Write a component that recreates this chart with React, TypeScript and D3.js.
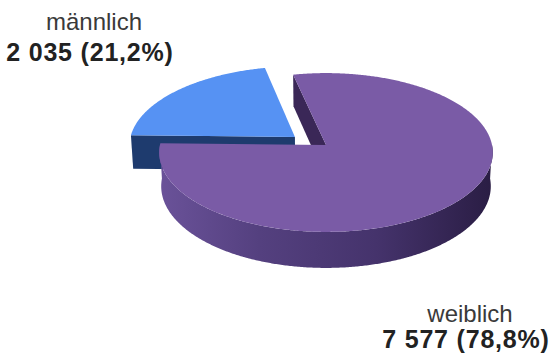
import React from 'react';
import * as d3 from 'd3';

// ---- data ----
const categories = ['männlich', 'weiblich'];
const values = [2035, 7577];
const valueLabels = ['2 035', '7 577'];
const percentLabels = ['21,2%', '78,8%'];

// ---- styles ----
const topColors = ['#5692f3', '#7a5ba6'];
const cutColors = ['#1e3b6e', '#3a2757'];
const explode = [0.215, 0];
const explodeTilt = -11 * (Math.PI / 180);

const W = 553;
const H = 356;
const deg = Math.PI / 180;

// perspective camera
const cx = 326;
const cy = 145;
const phi = 28.3 * deg;
const S = Math.sin(phi);
const C = Math.cos(phi);
const L = 9.33;
const F = 1549;
const T = 0.233; // thickness

function proj(u: number, v: number, y: number): [number, number] {
  const depth = L - y * S - v * C;
  return [cx + (F * u) / depth, cy - (F * (y * C - v * S)) / depth];
}

function arcPts(a0: number, a1: number, ou: number, ov: number, y: number): [number, number][] {
  const n = Math.max(2, Math.ceil(Math.abs(a1 - a0) / (0.5 * deg)));
  const pts: [number, number][] = [];
  for (let i = 0; i <= n; i++) {
    const a = a0 + ((a1 - a0) * i) / n;
    pts.push(proj(ou + Math.sin(a), ov - Math.cos(a), y));
  }
  return pts;
}

const line = d3.line<[number, number]>().curve(d3.curveLinearClosed);

const pie = d3
  .pie<number>()
  .sort(null)
  .value((d) => d)
  .startAngle(271.3 * deg)
  .endAngle(271.3 * deg + 2 * Math.PI);

export default function App() {
  const arcs = pie(values);

  const slices = arcs.map((a, i) => {
    const a0 = a.startAngle;
    const a1 = a.endAngle;
    const mid = (a0 + a1) / 2 + explodeTilt;
    const ou = explode[i] * Math.sin(mid);
    const ov = -explode[i] * Math.cos(mid);
    const parts: React.ReactNode[] = [];

    // start cut face
    if (Math.sin(a0) < 0) {
      const ru = ou + Math.sin(a0);
      const rv = ov - Math.cos(a0);
      parts.push(
        <path
          key={`cs${i}`}
          d={line([proj(ou, ov, 0), proj(ru, rv, 0), proj(ru, rv, -T), proj(ou, ov, -T)]) || ''}
          fill={cutColors[i]}
        />
      );
    }
    // end cut face
    if (Math.sin(a1) > 0) {
      const ru = ou + Math.sin(a1);
      const rv = ov - Math.cos(a1);
      parts.push(
        <path
          key={`ce${i}`}
          d={line([proj(ou, ov, 0), proj(ru, rv, 0), proj(ru, rv, -T), proj(ou, ov, -T)]) || ''}
          fill={cutColors[i]}
        />
      );
    }
    // outer side wall (front half)
    for (let k = 0; k <= 2; k++) {
      const w0 = Math.max(a0, 90 * deg + k * 2 * Math.PI);
      const w1 = Math.min(a1, 270 * deg + k * 2 * Math.PI);
      if (w1 > w0) {
        const topArc = arcPts(w0, w1, ou, ov, 0);
        const botArc = arcPts(w1, w0, ou, ov, -T);
        parts.push(
          <path key={`w${i}${k}`} d={line([...topArc, ...botArc]) || ''} fill={`url(#side${i})`} />
        );
      }
    }
    // top face
    parts.push(
      <path
        key={`t${i}`}
        d={line([proj(ou, ov, 0), ...arcPts(a0, a1, ou, ov, 0)]) || ''}
        fill={topColors[i]}
      />
    );
    return <g key={categories[i]}>{parts}</g>;
  });

  const labelPos = [
    { x: 94, y1: 30, y2: 61 },
    { x: 470, y1: 322, y2: 348 },
  ];

  return (
    <svg
      width={W}
      height={H}
      viewBox={`0 0 ${W} ${H}`}
      style={{ position: 'absolute', left: 0, top: 0, background: '#ffffff' }}
      fontFamily="'Liberation Sans', Arial, sans-serif"
    >
      <defs>
        <linearGradient id="side0" gradientUnits="userSpaceOnUse" x1={130} x2={300} y1={0} y2={0}>
          <stop offset="0" stopColor="#2a4f8f" />
          <stop offset="1" stopColor="#1a3363" />
        </linearGradient>
        <linearGradient id="side1" gradientUnits="userSpaceOnUse" x1={160} x2={492} y1={0} y2={0}>
          <stop offset="0" stopColor="#6a5299" />
          <stop offset="0.3" stopColor="#54407f" />
          <stop offset="0.65" stopColor="#45336c" />
          <stop offset="1" stopColor="#2a1d44" />
        </linearGradient>
      </defs>
      {slices}
      {categories.map((c, i) => (
        <g key={`lab${i}`} textAnchor="middle">
          <text x={labelPos[i].x} y={labelPos[i].y1} fontSize={24} fill="#3a3a3a">
            {c}
          </text>
          <text
            x={labelPos[i].x - 4}
            y={labelPos[i].y2}
            fontSize={25}
            fontWeight="bold"
            letterSpacing={0.8}
            fill="#222222"
          >
            {`${valueLabels[i]} (${percentLabels[i]})`}
          </text>
        </g>
      ))}
    </svg>
  );
}
